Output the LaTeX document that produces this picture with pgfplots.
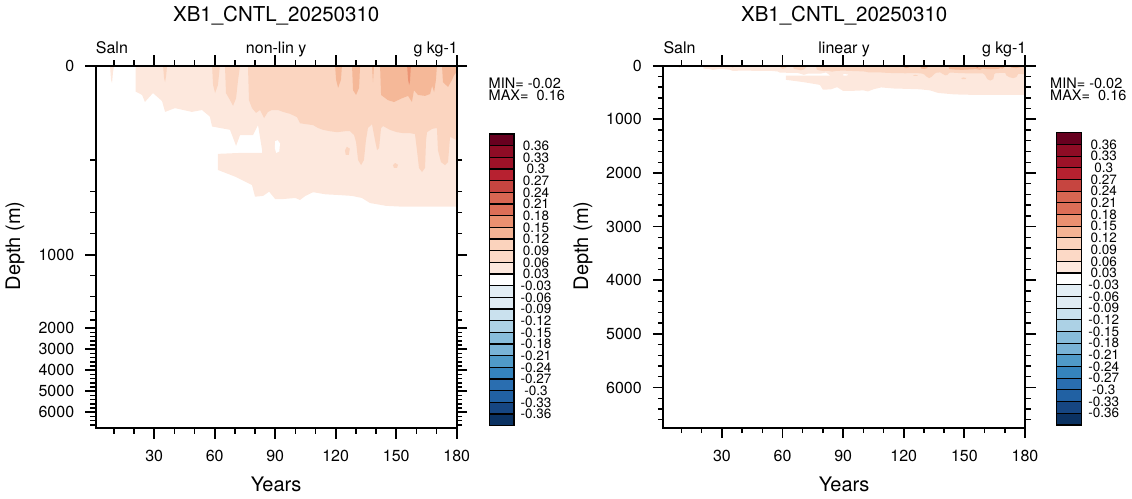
\documentclass[border=0pt]{standalone}
\usepackage{fontspec}
\setmainfont{TeX Gyre Heros}
\usepackage{pgfplots}
\pgfplotsset{compat=1.18}
\usepackage{pgfplotstable}

\definecolor{cA}{HTML}{FDE8DD}
\definecolor{cB}{HTML}{FBD5C0}
\definecolor{cC}{HTML}{F5B898}
\definecolor{cD}{HTML}{EC9474}
% colour bar, bottom (below -0.36) to top (above 0.36)
\definecolor{cb0}{HTML}{0B3262}
\definecolor{cb1}{HTML}{164682}
\definecolor{cb2}{HTML}{2161A3}
\definecolor{cb3}{HTML}{2A6EB0}
\definecolor{cb4}{HTML}{3584BD}
\definecolor{cb5}{HTML}{4F9AC8}
\definecolor{cb6}{HTML}{79B3D6}
\definecolor{cb7}{HTML}{88BDDB}
\definecolor{cb8}{HTML}{ACD1E5}
\definecolor{cb9}{HTML}{CAE1EE}
\definecolor{cb10}{HTML}{DFEBF3}
\definecolor{cb11}{HTML}{E3EEF5}
\definecolor{cb12}{HTML}{FFFFFF}
\definecolor{cb13}{HTML}{FDE8DD}
\definecolor{cb14}{HTML}{FCD9C6}
\definecolor{cb15}{HTML}{FBD3BD}
\definecolor{cb16}{HTML}{F4B394}
\definecolor{cb17}{HTML}{EA9070}
\definecolor{cb18}{HTML}{DC6E57}
\definecolor{cb19}{HTML}{D86652}
\definecolor{cb20}{HTML}{C64540}
\definecolor{cb21}{HTML}{B72130}
\definecolor{cb22}{HTML}{9D1228}
\definecolor{cb23}{HTML}{8E0C25}
\definecolor{cb24}{HTML}{67001F}

% contour-fill outlines: year, depth (m)
\pgfplotstableread{
yr d
8.1 0
8.6 30
9.1 37
9.6 13
10.1 0
}\tAs
\pgfplotstableread{
yr d
20.8 0
20.8 55
24.0 62
25.4 77
29.4 58
33.9 75
35.4 98
40.3 90
48.7 98
53.7 94
57.6 108
58.7 129
67.6 136
70.6 170
72.6 147
79.0 147
81.5 126
83.5 179
83.5 185
72.6 185
61.6 187
61.6 263
70.1 305
78.5 358
80.0 448
84.0 440
87.0 400
90.0 470
93.9 470
100.0 460
102.3 479
105.0 440
108.8 405
115.0 425
120.7 431
128.0 440
133.0 460
137.0 508
145.0 535
153.4 543
180 543
180 0
}\tA
\pgfplotstableread{
yr d
90.0 160
91.2 158
92.4 165
92.0 182
90.5 185
89.8 175
}\tAw
\pgfplotstableread{
yr d
34.4 0
34.9 26
35.4 35
35.9 22
36.4 0
}\tBs
\pgfplotstableread{
yr d
58.7 0
59.2 41
60.2 58
61.6 41
62.6 0
}\tBa
\pgfplotstableread{
yr d
65.1 0
65.6 58
67.6 73
69.1 85
70.6 69
71.6 30
72.6 0
}\tBb
\pgfplotstableread{
yr d
76.5 0
77.0 73
78.5 90
80.5 100
82.5 94
84.5 111
86.4 98
88.4 94
91.4 94
93.9 98
97.3 102
100.8 109
102.3 122
105.3 124
108.8 126
111.2 132
113.7 136
117.2 139
120.7 141
124.6 139
127.1 139
129.1 147
130.1 162
131.1 200
132.6 232
134.0 200
135.0 158
136.0 132
138.0 124
139.5 158
140.5 179
141.5 175
142.5 132
143.5 128
146.9 136
150.4 141
153.4 143
156.8 143
159.3 145
160.3 179
161.3 250
162.8 276
164.3 250
164.8 158
165.3 141
167.8 134
170.2 132
170.7 179
172.2 213
174.2 232
175.7 213
176.7 151
180 158
180 0
}\tBc
\pgfplotstableread{
yr d
124.6 180
125.5 172
127.0 176
126.5 189
125.0 189
}\tBd
\pgfplotstableread{
yr d
148.4 232
149.5 219
150.9 230
150.4 250
148.9 250
}\tBe
\pgfplotstableread{
yr d
119.7 0
120.2 30
121.2 47
122.6 30
123.1 0
}\tCa
\pgfplotstableread{
yr d
128.1 0
128.6 52
130.1 62
131.6 47
132.1 0
}\tCb
\pgfplotstableread{
yr d
138.0 0
138.5 35
139.0 0
}\tCc
\pgfplotstableread{
yr d
142.0 0
142.5 62
145.9 73
148.9 77
152.9 69
155.9 64
157.8 77
158.8 52
160.8 62
164.3 64
166.8 60
167.8 43
168.8 56
169.7 30
170.2 0
}\tCd
\pgfplotstableread{
yr d
172.7 0
173.2 35
175.7 45
177.7 30
178.7 20
180 13
180 0
}\tCe
\pgfplotstableread{
yr d
155.4 0
155.9 30
156.4 41
156.8 35
157.3 0
}\tD

\newcommand\poly[2]{\addplot[fill=#1, draw=none] table[x=yr, y expr=\ymap{\thisrow{d}}] {#2};}
\newcommand\drawall{%
\poly{cA}{\tAs}\poly{cA}{\tA}\poly{white}{\tAw}%
\poly{cB}{\tBs}\poly{cB}{\tBa}\poly{cB}{\tBb}\poly{cB}{\tBc}\poly{cB}{\tBd}\poly{cB}{\tBe}%
\poly{cC}{\tCa}\poly{cC}{\tCb}\poly{cC}{\tCc}\poly{cC}{\tCd}\poly{cC}{\tCe}%
\poly{cD}{\tD}}

\newcommand\colorbar{%
\addplot[fill=cb0, draw=none] coordinates {(0,0) (1,0) (1,1) (0,1)};
\addplot[fill=cb1, draw=none] coordinates {(0,1) (1,1) (1,2) (0,2)};
\addplot[fill=cb2, draw=none] coordinates {(0,2) (1,2) (1,3) (0,3)};
\addplot[fill=cb3, draw=none] coordinates {(0,3) (1,3) (1,4) (0,4)};
\addplot[fill=cb4, draw=none] coordinates {(0,4) (1,4) (1,5) (0,5)};
\addplot[fill=cb5, draw=none] coordinates {(0,5) (1,5) (1,6) (0,6)};
\addplot[fill=cb6, draw=none] coordinates {(0,6) (1,6) (1,7) (0,7)};
\addplot[fill=cb7, draw=none] coordinates {(0,7) (1,7) (1,8) (0,8)};
\addplot[fill=cb8, draw=none] coordinates {(0,8) (1,8) (1,9) (0,9)};
\addplot[fill=cb9, draw=none] coordinates {(0,9) (1,9) (1,10) (0,10)};
\addplot[fill=cb10, draw=none] coordinates {(0,10) (1,10) (1,11) (0,11)};
\addplot[fill=cb11, draw=none] coordinates {(0,11) (1,11) (1,12) (0,12)};
\addplot[fill=cb12, draw=none] coordinates {(0,12) (1,12) (1,13) (0,13)};
\addplot[fill=cb13, draw=none] coordinates {(0,13) (1,13) (1,14) (0,14)};
\addplot[fill=cb14, draw=none] coordinates {(0,14) (1,14) (1,15) (0,15)};
\addplot[fill=cb15, draw=none] coordinates {(0,15) (1,15) (1,16) (0,16)};
\addplot[fill=cb16, draw=none] coordinates {(0,16) (1,16) (1,17) (0,17)};
\addplot[fill=cb17, draw=none] coordinates {(0,17) (1,17) (1,18) (0,18)};
\addplot[fill=cb18, draw=none] coordinates {(0,18) (1,18) (1,19) (0,19)};
\addplot[fill=cb19, draw=none] coordinates {(0,19) (1,19) (1,20) (0,20)};
\addplot[fill=cb20, draw=none] coordinates {(0,20) (1,20) (1,21) (0,21)};
\addplot[fill=cb21, draw=none] coordinates {(0,21) (1,21) (1,22) (0,22)};
\addplot[fill=cb22, draw=none] coordinates {(0,22) (1,22) (1,23) (0,23)};
\addplot[fill=cb23, draw=none] coordinates {(0,23) (1,23) (1,24) (0,24)};
\addplot[fill=cb24, draw=none] coordinates {(0,24) (1,24) (1,25) (0,25)};}

\newcommand\tickfont{\fontsize{16}{16}\selectfont}
\newcommand\labfont{\fontsize{20}{20}\selectfont}
\newcommand\titfont{\fontsize{20.5}{20.5}\selectfont}
\newcommand\cbfont{\fontsize{13.5}{13.5}\selectfont}
\newcommand\mmfont{\fontsize{14.5}{14.5}\selectfont}

\pgfplotsset{
  mainax/.style={scale only axis, width=361pt, height=362.3pt,
    xmin=1, xmax=180, y dir=reverse, axis on top,
    xtick={30,60,90,120,150,180}, xticklabels={30,60,90,120,150,180},
    minor xtick={10,20,40,50,70,80,100,110,130,140,160,170},
    tick align=outside, major tick length=10.5pt, minor tick length=5.5pt,
    axis line style={line width=2.2pt},
    major tick style={black, line width=1.8pt},
    minor tick style={black, line width=1.4pt},
    xticklabel style={font=\tickfont, yshift=-8.5pt},
    yticklabel style={font=\tickfont, xshift=-7.5pt},
  },
  cbax/.style={scale only axis, xmin=0, xmax=1, ymin=0, ymax=25, axis on top,
    axis line style={line width=1.3pt}, xtick=\empty,
    ytick={1,...,24}, ymajorgrids, major grid style={black, line width=1.1pt},
    yticklabels={-0.36,-0.33,-0.3,-0.27,-0.24,-0.21,-0.18,-0.15,-0.12,-0.09,-0.06,-0.03,0.03,0.06,0.09,0.12,0.15,0.18,0.21,0.24,0.27,0.3,0.33,0.36},
    yticklabel pos=right, ytick style={draw=none},
    yticklabel style={anchor=center, xshift=22pt, font=\cbfont},
  },
}

\begin{document}
\begin{tikzpicture}[declare function={dmap(\z)=0.4715*min(\z,200)+0.1585*max(0,min(\z,400)-200)+0.105*max(0,min(\z,1400)-400)+0.075*max(0,min(\z,1600)-1400)+0.0415*max(0,min(\z,2000)-1600)+0.021*max(0,\z-2000);}]
\path[use as bounding box] (0,0) rectangle (1132pt,-498pt);

% ---------------- left panel (non-linear y) ----------------
\def\ymap#1{dmap(#1)}
\begin{axis}[mainax, at={(95.7pt,-428pt)}, anchor=south west,
  ymin=0, ymax=362.35,
  ytick={0,189,262.6,283.6,304.6,325.6,346.6},
  yticklabels={0,1000,2000,3000,4000,5000,6000},
  minor ytick={94.3,126,147,168,210,231,246,254.3,266.8,271,275.2,279.4,287.8,292,296.2,300.4,308.8,313,317.2,321.4,329.8,334,338.2,342.4,350.8,355,359.2}]
\drawall
\end{axis}

% ---------------- right panel (linear y) ----------------
\def\ymap#1{#1}
\begin{axis}[mainax, at={(663.3pt,-427.7pt)}, anchor=south west,
  width=361.7pt, height=362pt,
  ymin=0, ymax=6750,
  ytick={0,1000,2000,3000,4000,5000,6000},
  yticklabels={0,1000,2000,3000,4000,5000,6000},
  minor ytick={200,400,600,800,1200,1400,1600,1800,2200,2400,2600,2800,3200,3400,3600,3800,4200,4400,4600,4800,5200,5400,5600,5800,6200,6400,6600}]
\drawall
\end{axis}

% ---------------- colour bars ----------------
\begin{axis}[cbax, at={(489.3pt,-425.7pt)}, anchor=south west, width=24.7pt, height=291.7pt]
\colorbar
\end{axis}
\begin{axis}[cbax, at={(1056.7pt,-425pt)}, anchor=south west, width=25pt, height=292.3pt]
\colorbar
\end{axis}

% ---------------- texts ----------------
\node[font=\titfont, anchor=base] at (276.2pt,-21.7pt) {XB1\_CNTL\_20250310};
\node[font=\titfont, anchor=base] at (844.2pt,-21.7pt) {XB1\_CNTL\_20250310};
\node[font=\tickfont, anchor=base west, inner sep=0pt] at (95.7pt,-53pt) {Saln};
\node[font=\tickfont, anchor=base, inner sep=0pt] at (276.2pt,-53pt) {non-lin y};
\node[font=\tickfont, anchor=base east, inner sep=0pt] at (458pt,-53pt) {g kg-1};
\node[font=\tickfont, anchor=base west, inner sep=0pt] at (663.3pt,-53pt) {Saln};
\node[font=\tickfont, anchor=base, inner sep=0pt] at (844.2pt,-53pt) {linear y};
\node[font=\tickfont, anchor=base east, inner sep=0pt] at (1026.5pt,-53pt) {g kg-1};
\node[font=\labfont, anchor=base, inner sep=0pt] at (276.2pt,-491.7pt) {Years};
\node[font=\labfont, anchor=base, inner sep=0pt] at (844.2pt,-491.7pt) {Years};
\node[font=\labfont, anchor=base, rotate=90, inner sep=0pt] at (20pt,-246pt) {Depth (m)};
\node[font=\labfont, anchor=base, rotate=90, inner sep=0pt] at (588pt,-246pt) {Depth (m)};
\node[font=\mmfont, anchor=base west, inner sep=0pt] at (488.5pt,-88.3pt) {MIN= -0.02};
\node[font=\mmfont, anchor=base west, inner sep=0pt] at (488.5pt,-100.7pt) {MAX=\ \ 0.16};
\node[font=\mmfont, anchor=base west, inner sep=0pt] at (1050pt,-88pt) {MIN= -0.02};
\node[font=\mmfont, anchor=base west, inner sep=0pt] at (1050pt,-100.4pt) {MAX=\ \ 0.16};
\end{tikzpicture}
\end{document}
